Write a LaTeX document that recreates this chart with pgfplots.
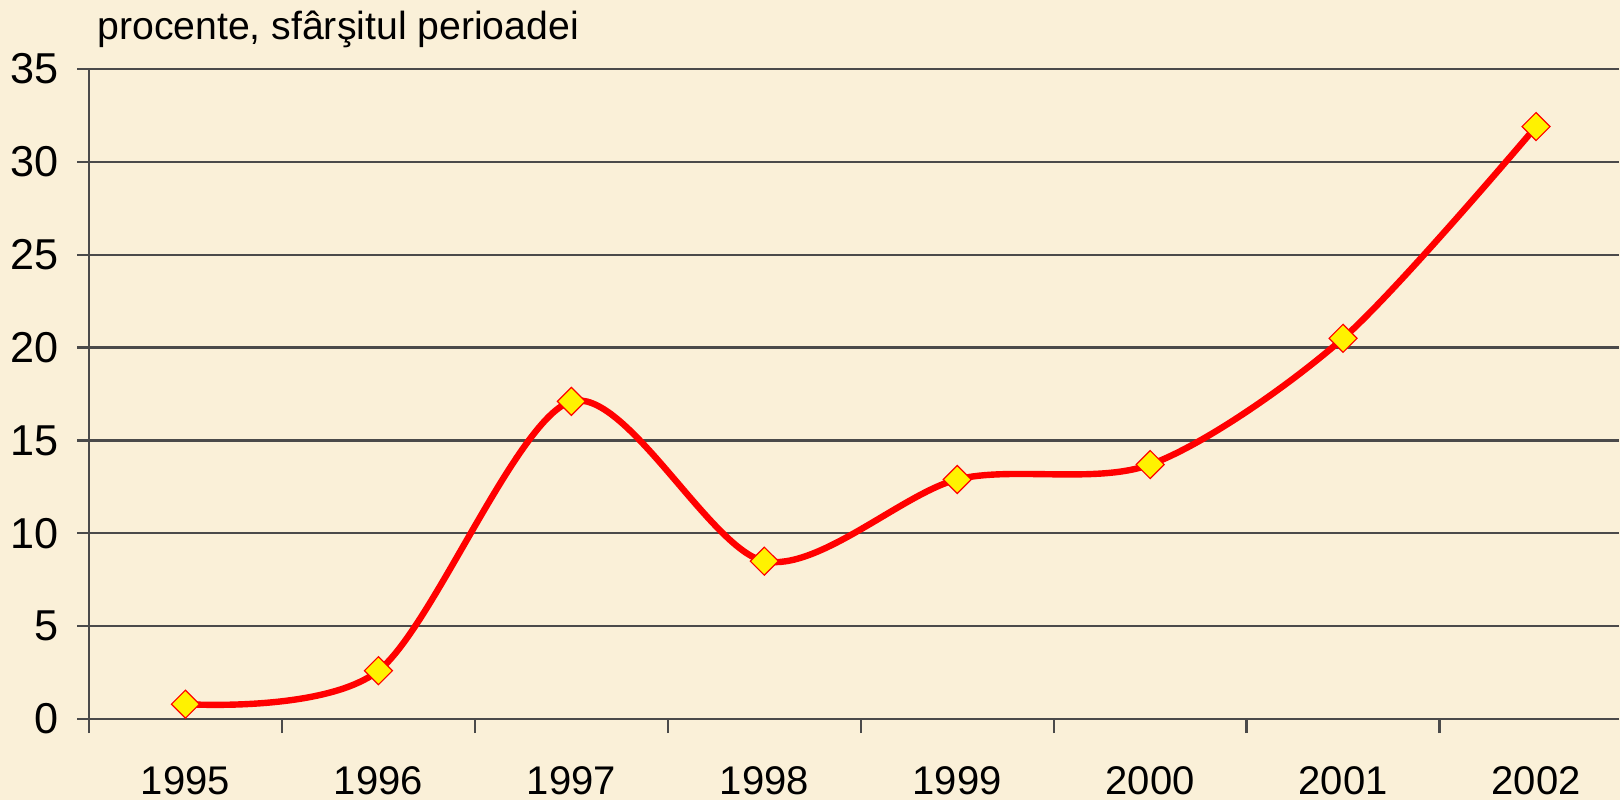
\documentclass[border=0pt]{standalone}
\usepackage{fontspec}
\setmainfont{Liberation Sans}
\usepackage{pgfplots}
\pgfplotsset{compat=1.18}
\definecolor{bg}{HTML}{FAF0D8}
\definecolor{gridc}{HTML}{4A4A4A}
\begin{document}
\begin{tikzpicture}
\useasboundingbox (0,0) rectangle (810bp,400bp);
\fill[bg] (0,0) rectangle (810bp,400bp);
\node[anchor=base west, inner sep=0pt, font=\fontsize{19.6bp}{22bp}\selectfont] at (48.5bp,380bp) {procente, sfârşitul perioadei};
\begin{axis}[
  scale only axis,
  width=765bp, height=325bp,
  at={(44.5bp,40.5bp)}, anchor=south west,
  xmin=-0.5, xmax=7.43, ymin=0, ymax=35,
  axis lines*=left,
  axis line style={gridc, line width=1.2bp},
  xtick={0,...,7},
  xticklabels={1995,1996,1997,1998,1999,2000,2001,2002},
  minor xtick={-0.5,0.5,1.5,2.5,3.5,4.5,5.5,6.5},
  major x tick style={draw=none},
  minor x tick style={gridc, line width=1.2bp},
  ytick={0,5,...,35},
  major y tick style={gridc, line width=1.2bp},
  tick align=outside,
  major tick length=6bp, minor tick length=7bp,
  ymajorgrids,
  major grid style={gridc, line width=1.2bp},
  /pgf/number format/assume math mode=true,
  xticklabel style={anchor=base, inner sep=0pt, yshift=-31.5bp, font=\fontsize{20bp}{22bp}\selectfont},
  yticklabel style={anchor=east, inner sep=0pt, xshift=-9bp, font=\fontsize{21.6bp}{24bp}\selectfont},
  clip=false,
]
\addplot[red, line width=3.2bp, smooth, tension=0.5,
  mark=square*, mark size=4.95bp,
  mark options={fill=yellow, draw=red, line width=0.6bp, rotate=45}]
  coordinates {(0,0.8) (1,2.6) (2,17.1) (3,8.5) (4,12.9) (5,13.7) (6,20.5) (7,31.9)};
\end{axis}
\end{tikzpicture}
\end{document}
